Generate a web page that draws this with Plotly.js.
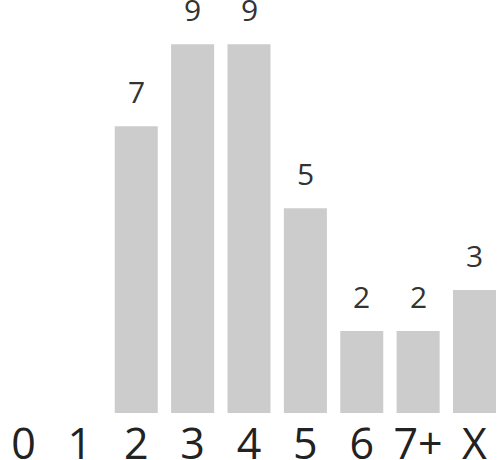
<!DOCTYPE html>
<html>
<head>
<meta charset="utf-8">
<script src="https://cdn.plot.ly/plotly-3.0.1.min.js"></script>
<style>
  html, body { margin: 0; padding: 0; background: #fff; }
  #chart { width: 497px; height: 460px; }
</style>
</head>
<body>
<div id="chart"></div>
<script>
// categories and counts
var categories = ['0', '1', '2', '3', '4', '5', '6', '7+', 'X'];
var counts = [0, 0, 7, 9, 9, 5, 2, 2, 3];

var FONT = '"Open Sans", "DejaVu Sans", sans-serif';

var trace = {
  type: 'bar',
  x: categories,
  y: counts,
  marker: { color: '#cccccc' },
  hoverinfo: 'none'
};

// value labels above the non-empty bars
var labels = [];
categories.forEach(function (c, i) {
  if (!counts[i]) return;
  labels.push({
    x: c, y: counts[i], text: String(counts[i]),
    xref: 'x', yref: 'y', yanchor: 'bottom',
    showarrow: false, yshift: 12,
    font: { family: FONT, size: 30, color: '#333333' }
  });
});

var layout = {
  width: 497, height: 460,
  margin: { l: 0, r: 0, t: 0, b: 47 },
  paper_bgcolor: '#ffffff',
  plot_bgcolor: '#ffffff',
  showlegend: false,
  bargap: 0.237,
  xaxis: {
    type: 'category',
    range: [-0.417, 8.399],
    showgrid: false, zeroline: false, showline: false,
    ticks: '', ticklen: 0,
    ticklabelstandoff: 2,
    tickfont: { family: FONT, size: 43, color: '#222222' },
    fixedrange: true
  },
  yaxis: {
    range: [0, 10.08],
    visible: false,
    fixedrange: true
  },
  annotations: labels
};

Plotly.newPlot('chart', [trace], layout, { displayModeBar: false, staticPlot: true });
</script>
</body>
</html>
